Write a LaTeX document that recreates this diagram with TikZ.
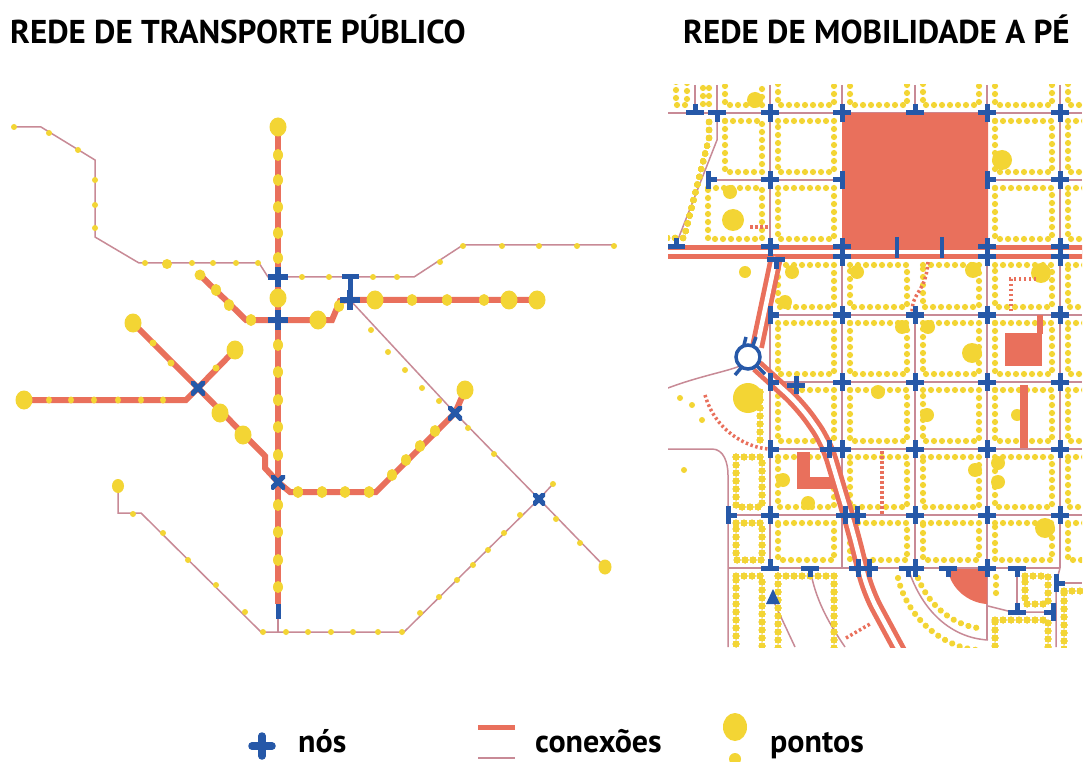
\documentclass[tikz,border=0pt]{standalone}
\usepackage{fontspec}
\setmainfont{PT Sans}
\usetikzlibrary{decorations.markings}

\definecolor{laranja}{RGB}{233,112,92}
\definecolor{malva}{RGB}{200,138,150}
\definecolor{amarelo}{RGB}{243,213,52}
\definecolor{azul}{RGB}{38,88,168}

\pgfdeclarelayer{fundo}
\pgfdeclarelayer{meio}
\pgfsetlayers{fundo,meio,main}

\tikzset{
  via/.style={draw=malva, line width=1.5pt},
  conexao/.style={draw=laranja, line width=6pt},
  cruz/.style={draw=azul, line width=5pt},
  no/.style={minimum size=20pt, inner sep=0pt, outer sep=0pt,
    path picture={\draw[cruz, line width=5.5pt] (path picture bounding box.west) -- (path picture bounding box.east)
      (path picture bounding box.north) -- (path picture bounding box.south);}},
  noX/.style={minimum size=14pt, inner sep=0pt, outer sep=0pt,
    path picture={\draw[cruz] (path picture bounding box.north west) -- (path picture bounding box.south east)
      (path picture bounding box.north east) -- (path picture bounding box.south west);}},
  noT/.style={fill=azul, minimum width=17pt, minimum height=5pt, inner sep=0pt},
  fila/.style={decorate, decoration={markings,
    mark=between positions 0 and 1 step 8pt with {\fill[amarelo] (0,0) circle (3.1pt);}}},
  estrada/.style={draw=laranja, line width=14pt, postaction={draw=white, line width=4.5pt}},
  pontilhado/.style={draw=laranja, line width=3.5pt, dash pattern=on 2.5pt off 2.5pt},
  mais/.pic={\draw[cruz] (-9,0) -- (9,0) (0,-9) -- (0,9);},
  tee/.pic={\draw[cruz] (-9,0) -- (9,0) (0,0) -- (0,-9);},
  titulo/.style={font=\bfseries\fontsize{33}{33}\selectfont, anchor=base west, inner sep=0pt},
  legenda/.style={font=\bfseries\fontsize{32}{32}\selectfont, anchor=base west, inner sep=0pt},
}

% dots round a block
\newcommand\quadra[4]{\path[fila] (#1+8,#2+8) -- (#3-8,#2+8) -- (#3-8,#4-8) -- (#1+8,#4-8) -- cycle;}

\begin{document}
\begin{tikzpicture}[x=1pt, y=-1pt]
\useasboundingbox (0,0) rectangle (1085,762);
\begin{pgfonlayer}{fundo}
\fill[white] (0,0) rectangle (1085,762);
\end{pgfonlayer}

% titles
\node[titulo] (tit-tp) at (10,44) {REDE DE TRANSPORTE PÚBLICO};
\node[titulo] (tit-mp) at (683,44) {REDE DE MOBILIDADE A PÉ};

%%%%% rede de transporte publico
\node[no] (nA) at (278,277) {};
\node[no] (nB) at (278,320) {};
\node[no] (nC) at (350,300) {};
\node[noT] (nT) at (350,277) {};
\node[noX] (nD) at (198,388) {};
\node[noX] (nE) at (278,482) {};
\node[noX] (nF) at (455,413) {};
\node[noX, minimum size=12pt] (nG) at (539,499) {};

% bends
\coordinate (a1) at (14,127);  \coordinate (a2) at (41,127);
\coordinate (a3) at (95,160);  \coordinate (a4) at (95,237);
\coordinate (a5) at (139,263); \coordinate (a6) at (259,263);
\coordinate (a7) at (268,277); \coordinate (a8) at (414,277);
\coordinate (a9) at (463,245); \coordinate (a10) at (616,245);
\coordinate (v0) at (278,126); \coordinate (v1) at (278,604);
\coordinate (v3) at (278,619); \coordinate (v2) at (278,632);
\coordinate (b0) at (200,275); \coordinate (b1) at (246,320);
\coordinate (b2) at (332,320); \coordinate (b3) at (340,301);
\coordinate (b4) at (537,300);
\coordinate (c1) at (605,567);
\coordinate (d0) at (24,400);  \coordinate (d1) at (186,400);
\coordinate (d2) at (235,350); \coordinate (d3) at (133,323);
\coordinate (d4) at (265,456); \coordinate (d5) at (265,468);
\coordinate (d6) at (290,492); \coordinate (d7) at (376,492);
\coordinate (d8) at (465,390);
\coordinate (e0) at (118,486); \coordinate (e1) at (118,513);
\coordinate (e2) at (141,513); \coordinate (e3) at (261,632);
\coordinate (e4) at (404,632); \coordinate (e5) at (553,484);

\begin{pgfonlayer}{fundo}
\draw[via] (a1) -- (a2) -- (a3) -- (a4) -- (a5) -- (a6) -- (a7) -- (nA.center) -- (nT.center) -- (a8) -- (a9) -- (a10);
\draw[via] (nC.center) -- (nF.center) -- (nG.center) -- (c1);
\draw[via] (e0) -- (e1) -- (e2) -- (e3) -- (e4) -- (nG.center) -- (e5);
\draw[via] (v3) -- (v2);
\draw[conexao] (v0) -- (nA.center) -- (nB.center) -- (nE.center) -- (v1);
\draw[conexao] (b0) -- (b1) -- (nB.center) -- (b2) -- (b3) -- (nC.center) -- (b4);
\draw[conexao] (d0) -- (d1) -- (nD.center) -- (d2);
\draw[conexao] (d3) -- (nD.center) -- (d4) -- (d5) -- (nE.center) -- (d6) -- (d7) -- (nF.center) -- (d8);
\end{pgfonlayer}

\begin{pgfonlayer}{meio}
\draw[cruz] (v1) -- (v3);
\draw[cruz] (nT.center) -- (nC.center);
% pontos
\foreach \x/\y in {14/127, 49/133, 78/150, 95/180, 95/205, 95/228, 145/263, 192/263, 213/263, 236/263,
  258/263, 302/277, 329/277, 373/277, 397/277, 440/262, 463/246, 502/246, 539/246, 577/246, 614/246,
  371/330, 388/352, 405/370, 422/388, 439/401, 468/428, 494/454, 556/519, 580/543,
  133/514, 163/533, 188/560, 216/585, 245/612, 263/632, 286/632, 308/632, 331/632, 353/632, 378/632,
  402/632, 420/613, 439/597, 457/580, 473/565, 488/550, 504/533, 520/515, 553/484}
  \fill[amarelo] (\x,\y) circle (3);
\foreach \x/\y in {278/155, 278/180, 278/207, 278/233, 278/258, 278/345, 278/372, 278/400, 278/427,
  278/455, 278/505, 278/532, 278/560, 278/587, 216/290, 229/305, 251/320, 339/306, 412/300, 447/300,
  484/300, 298/492, 322/492, 345/492, 369/492, 392/475, 406/460, 420/446, 435/431}
  \fill[amarelo] (\x,\y) ellipse (5 and 6);
\foreach \x in {49,71,94,118,141,163}
  \fill[amarelo] (\x,400) ellipse (3 and 3.5);
\foreach \x/\y in {153/343, 171/363, 216/368}
  \fill[amarelo] (\x,\y) circle (3.5);
\foreach \x/\y in {278/127, 278/298, 318/320, 375/300, 509/300, 537/300, 24/400, 133/323, 235/350,
  220/413, 243/435, 465/390}
  \fill[amarelo] (\x,\y) ellipse (8.5 and 9.5);
\fill[amarelo] (167,264) circle (5);
\fill[amarelo] (200,275) circle (5.5);
\fill[amarelo] (118,486) ellipse (6 and 7);
\fill[amarelo] (605,567) ellipse (6.5 and 7.5);
\end{pgfonlayer}

%%%%% rede de mobilidade a pe
\begin{scope}
\clip (668,85) rectangle (1082,647);
% ruas
\draw[via] (668,113) -- (1082,113);
\foreach \x in {695,717,770,842,915,987,1060}
  \draw[via] (\x,85) -- (\x,113);
\draw[via] (717,113) -- (717,140) -- (675,247);
\draw[via] (770,113) -- (770,247);
\draw[via] (987,113) -- (987,247);
\draw[via] (1060,113) -- (1060,247);
\draw[via] (706,180) -- (842,180);
\draw[via] (987,180) -- (1082,180);
\foreach \y in {315,382,449}
  \draw[via] (770,\y) -- (1082,\y);
\draw[via] (728,515) -- (1082,515);
\draw[via] (728,568) -- (1060,568);
\draw[via] (770,315) -- (770,568);
\draw[via] (842,257) -- (842,568);
\draw[via] (915,313) -- (915,568);
\draw[via] (987,257) -- (987,640);
\draw[via] (1060,257) -- (1060,568);
\draw[via] (668,449) -- (712,449) to[out=0, in=90] (728,475) -- (728,647);
\draw[via] (668,388) .. controls (700,376) and (725,372) .. (740,366);
\draw[via] (773,600) -- (795,647);
\draw[via] (810,568) .. controls (815,600) and (830,625) .. (845,647);
\draw[via] (908,568) .. controls (922,612) and (952,638) .. (988,640);
\draw[via] (988,606) -- (1012,612) -- (1053,612);
\draw[via] (1017,568) -- (1017,612);
\draw[via] (1060,568) -- (1056,583) -- (1056,647);
\draw[via] (1056,583) -- (1082,583);

% pontos
\quadra{717}{113}{770}{180}
\quadra{700}{180}{770}{247}
\quadra{770}{113}{842}{180}
\quadra{770}{180}{842}{247}
\quadra{987}{113}{1060}{180}
\quadra{987}{180}{1060}{247}
\quadra{1060}{113}{1100}{180}
\quadra{1060}{180}{1100}{247}
\foreach \a/\b in {668/695, 695/717, 717/770, 770/842, 842/915, 915/987, 987/1060, 1060/1100}
  \quadra{\a}{70}{\b}{113}
\path[fila] (709,122) -- (709,138) -- (684,238) -- (660,238);
\foreach \a/\b in {770/842, 842/915, 915/987, 987/1060, 1060/1100}
  \foreach \c/\d in {257/315, 315/382, 382/449, 449/515, 515/568}
    \quadra{\a}{\c}{\b}{\d}
\quadra{728}{449}{770}{515}
\quadra{728}{515}{770}{568}
\quadra{728}{568}{770}{660}
\quadra{770}{568}{842}{660}
\quadra{1017}{568}{1056}{612}
\quadra{987}{612}{1056}{660}
\quadra{1056}{583}{1100}{660}
\path[fila] (760,392) -- (760,440);
\path[fila] (918,578) .. controls (930,608) and (955,625) .. (978,628);
\path[fila] (898,578) .. controls (908,620) and (945,648) .. (978,650);
\path[fila] (996,577) -- (996,598);
\foreach \x/\y in {680/398, 692/405, 702/420, 684/470}
  \fill[amarelo] (\x,\y) circle (3);
\foreach \x/\y/\r in {755/100/8, 730/192/7, 733/220/11, 1002/160/10, 973/270/8, 1041/273/10,
  902/327/7, 928/327/7, 972/353/10, 878/392/7, 927/415/7, 1017/415/6, 792/272/7, 857/272/7,
  745/272/6, 785/302/7, 748/398/15, 783/480/7, 808/503/7, 975/470/7, 998/463/7, 998/482/7,
  1045/528/10}
  \fill[amarelo] (\x,\y) circle (\r);

% areas e conexoes
\fill[laranja, rounded corners=5pt] (842,113) rectangle (988,249);
\fill[laranja] (1005,333) rectangle (1042,366);
\fill[laranja] (1037,315) rectangle (1043,334);
\fill[laranja] (1020,385) rectangle (1028,448);
\fill[laranja] (797,452) rectangle (810,489);
\fill[laranja] (797,477) rectangle (836,489);
\fill[laranja] (948,569) .. controls (950,588) and (968,603) .. (987,604) -- (987,569) -- cycle;
\draw[estrada] (660,252) -- (1090,252);
\draw[estrada] (776,257) -- (757,347);
\draw[estrada, rounded corners=18pt] (757,366) -- (800,405) -- (826,442) -- (853,532) -- (868,592) -- (902,655);
\draw[pontilhado] (750,227) -- (770,227);
\draw[pontilhado] (928,262) .. controls (926,292) and (912,292) .. (912,312);
\draw[pontilhado] (1036,279) -- (1011,279) -- (1011,314);
\draw[pontilhado] (882,451) -- (882,514);
\draw[pontilhado] (705,395) .. controls (715,430) and (745,447) .. (768,449);
\draw[pontilhado] (846,638) -- (870,624);

% nos
\draw[cruz, line width=3.5pt, fill=white] (748,357) circle (12);
\draw[cruz, line width=3.5pt] (741,368) -- (735,375) (757,366) -- (765,374) (744,345) -- (746,337) (753,345) -- (756,337);
\foreach \x/\y in {770/113, 842/113, 987/113, 1060/113, 770/180, 1060/180, 770/247, 842/247, 987/247,
  1060/247, 842/257, 987/257, 1060/257, 842/315, 915/315, 987/315, 1060/315, 842/382, 915/382,
  987/382, 1060/382, 915/449, 987/449, 1060/449, 770/515, 915/515, 987/515, 1060/515, 915/568,
  987/568, 796/385, 829/449, 842/449, 845/515, 857/515, 858/568, 869/568}
  \pic at (\x,\y) {mais};
\foreach \x/\y in {695/113, 915/113, 770/568, 1017/612, 676/247}
  \pic at (\x,\y) {tee};
\foreach \x/\y in {717/113, 810/568, 908/568, 948/568, 1017/568, 776/260}
  \pic[rotate=180] at (\x,\y) {tee};
\foreach \x/\y in {842/180, 1053/612}
  \pic[rotate=90] at (\x,\y) {tee};
\foreach \x/\y in {987/180, 770/315, 770/382, 770/449, 728/515, 1056/583, 708/180}
  \pic[rotate=-90] at (\x,\y) {tee};
\draw[cruz, line width=4pt] (897,237) -- (897,258) (942,237) -- (942,258);
\fill[azul] (773,589) -- (766,604) -- (780,604) -- cycle;
\end{scope}

%%%%% legenda
\node (leg-no) at (262,746) {};
\draw[azul, line width=7.5pt, line cap=round] ([xshift=-10pt]leg-no.center) -- ([xshift=10pt]leg-no.center)
  ([yshift=-10pt]leg-no.center) -- ([yshift=10pt]leg-no.center);
\node[legenda] (leg-nos) at (298,752) {nós};
\coordinate (leg-c1) at (478,727); \coordinate (leg-c2) at (515,727);
\coordinate (leg-v1) at (478,758); \coordinate (leg-v2) at (515,758);
\draw[conexao, line width=5pt] (leg-c1) -- (leg-c2);
\draw[via, line width=2.5pt] (leg-v1) -- (leg-v2);
\node[legenda] (leg-con) at (535,752) {conexões};
\fill[amarelo] (735,727) ellipse (12 and 14);
\fill[amarelo] (735,759) circle (6);
\node[legenda] (leg-pon) at (770,752) {pontos};
\end{tikzpicture}
\end{document}
